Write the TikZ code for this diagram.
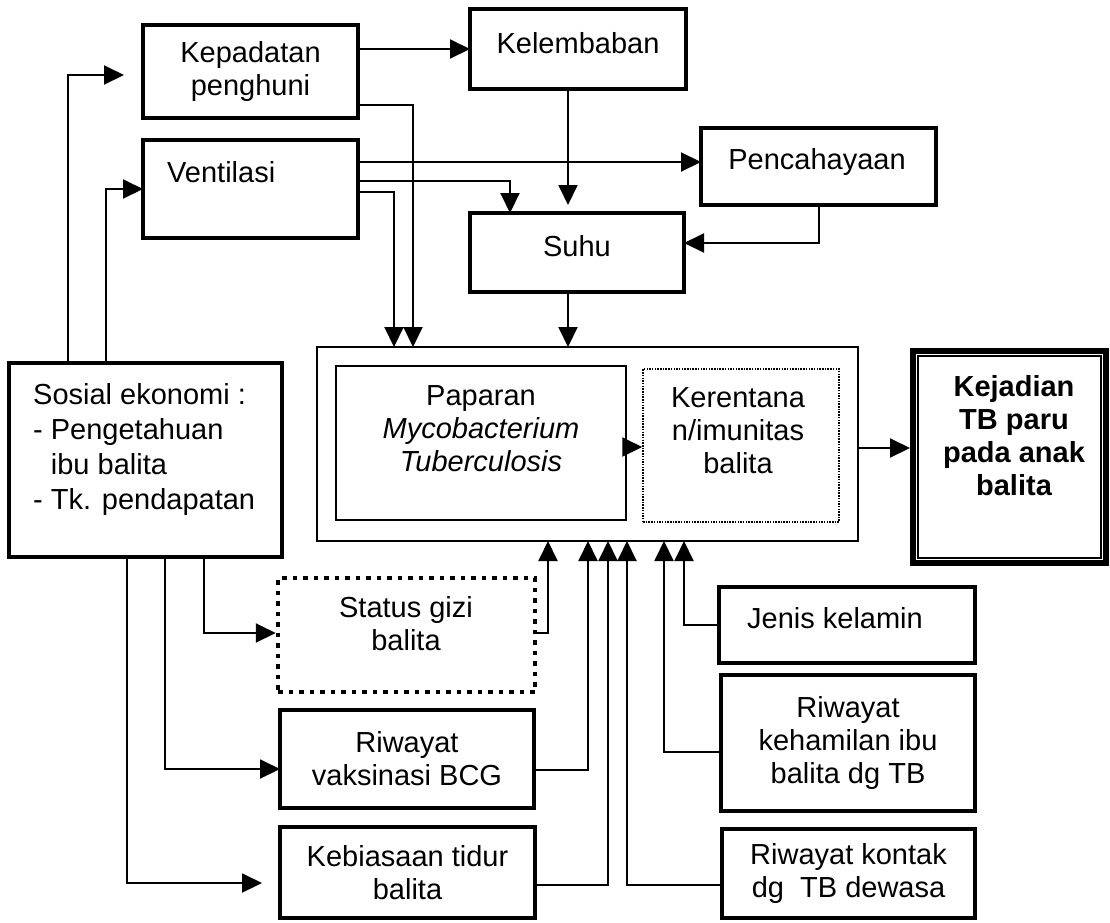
\documentclass[tikz,border=0pt]{standalone}
\usepackage{fontspec}
\setmainfont{Liberation Sans}
\usetikzlibrary{arrows.meta,calc}
\begin{document}
\begin{tikzpicture}[x=1pt,y=-1pt,
  box/.style={draw, line width=4.5pt, inner sep=0pt, outer sep=0pt, font=\fontsize{29}{33}\selectfont, align=center},
  thinbox/.style={draw, line width=1.8pt, inner sep=0pt, outer sep=0pt},
  txt/.style={font=\fontsize{29}{33}\selectfont, align=center, inner sep=0pt},
  conn/.style={line width=2pt},
  arr/.style={conn, -{Triangle[length=20pt,width=19pt]}},
]
\clip (0,0) rectangle (1110,922);
\fill[white] (0,0) rectangle (1110,922);

% top boxes
\node[box, minimum width=215pt, minimum height=93pt] (kep) at (250.5,71.5) {Kepadatan\\penghuni};
\node[box, minimum width=216pt, minimum height=80pt] (kel) at (578,49) {};
\node[txt] (kelT) at (578,43) {Kelembaban};
\node[box, minimum width=215pt, minimum height=98pt] (ven) at (250.5,189) {};
\node[txt, anchor=west] (venT) at (167,172) {Ventilasi};
\node[box, minimum width=235pt, minimum height=77pt] (pen) at (818.5,166.5) {};
\node[txt] (penT) at (817,162) {Pencahayaan};
\node[box, minimum width=214pt, minimum height=79pt] (suhu) at (577,252.5) {};
\node[txt] (suhuT) at (577,246) {Suhu};

% container
\node[thinbox, minimum width=541pt, minimum height=194pt] (cont) at (587.5,444) {};
\node[draw, line width=1.5pt, inner sep=0pt, minimum width=290pt, minimum height=154pt] (pap) at (481,443) {};
\node[txt] (papT) at (481,429) {Paparan\\\textit{Mycobacterium}\\\textit{Tuberculosis}};
\node[draw, line width=1.5pt, dash pattern=on 1.5pt off 1.2pt, inner sep=0pt, minimum width=196pt, minimum height=153pt] (ker) at (741,445.5) {};
\node[txt] (kerT) at (738,431) {Kerentana\\n/imunitas\\balita};

% outcome
\node[draw, line width=6pt, inner sep=0pt, minimum width=193pt, minimum height=212pt] (kej) at (1009.5,457) {};
\draw[line width=1.8pt] ($(kej.north west)+(8,8)$) rectangle ($(kej.south east)+(-8,-8)$);
\node[txt, font=\fontsize{29}{33}\selectfont\bfseries] (kejT) at (1014,436) {Kejadian\\TB paru\\pada anak\\balita};

% sosial ekonomi
\node[box, minimum width=273pt, minimum height=194pt] (sos) at (145.5,460) {};
\node[txt, align=left, anchor=north west, font=\fontsize{29}{35}\selectfont] (sosT) at (33,383) {Sosial ekonomi :\\- Pengetahuan\\\phantom{- }ibu balita\\- Tk. pendapatan};

% lower boxes
\node[draw, line width=4.5pt, dash pattern=on 4.5pt off 6pt, inner sep=0pt, minimum width=257pt, minimum height=114pt] (gizi) at (406.5,635) {};
\node[txt] (giziT) at (406,624) {Status gizi\\balita};
\node[box, minimum width=254pt, minimum height=98pt] (bcg) at (407,759) {Riwayat\\vaksinasi BCG};
\node[box, minimum width=255pt, minimum height=91pt] (keb) at (407.5,872.5) {Kebiasaan tidur\\balita};
\node[box, minimum width=256pt, minimum height=76pt] (jen) at (847,625) {};
\node[txt] (jenT) at (835,618) {Jenis kelamin};
\node[box, minimum width=254pt, minimum height=136pt] (ham) at (848,743) {Riwayat\\kehamilan ibu\\balita dg TB};
\node[box, minimum width=253pt, minimum height=89pt] (kon) at (848.5,873.5) {Riwayat kontak\\dg~ TB dewasa};

% free ends
\coordinate (kepIn) at (124,75);
\coordinate (suhuIn) at (568,205);
\coordinate (kebIn) at (262,883);

% connectors
\draw[arr] (sos.north -| 68,0) |- (kepIn);
\draw[arr] (sos.north -| 106,0) |- (ven.west);
\draw[arr] (kep.east |- kel.west) -- (kel.west);
\draw[arr] (kep.east |- 0,105) -| (cont.north -| 413,0);
\draw[arr] (ven.east |- 0,162) -- (pen.west |- 0,162);
\draw[arr] (ven.east |- 0,181) -| (suhu.north -| 510,0);
\draw[arr] (ven.east |- 0,192) -| (cont.north -| 394,0);
\draw[arr] (kel.south -| 568,0) -- (suhuIn);
\draw[arr] (pen.south -| 819,0) |- (suhu.east |- 0,243);
\draw[arr] (suhu.south -| 568,0) -- (cont.north -| 568,0);
\draw[arr] (pap.east |- 0,447) -- (ker.west |- 0,447);
\draw[arr] (cont.east |- 0,448) -- (kej.west |- 0,448);
\draw[arr] (sos.south -| 204,0) |- (gizi.west |- 0,633);
\draw[arr] (sos.south -| 165,0) |- (bcg.west |- 0,769);
\draw[arr] (sos.south -| 127,0) |- (kebIn);
\draw[arr] (gizi.east |- 0,633) -| (cont.south -| 548,0);
\draw[arr] (bcg.east |- 0,770) -| (cont.south -| 588,0);
\draw[arr] (keb.east |- 0,885) -| (cont.south -| 608,0);
\draw[arr] (kon.west |- 0,885) -| (cont.south -| 627,0);
\draw[arr] (ham.west |- 0,752) -| (cont.south -| 664,0);
\draw[arr] (jen.west |- 0,625) -| (cont.south -| 684,0);
\end{tikzpicture}
\end{document}
